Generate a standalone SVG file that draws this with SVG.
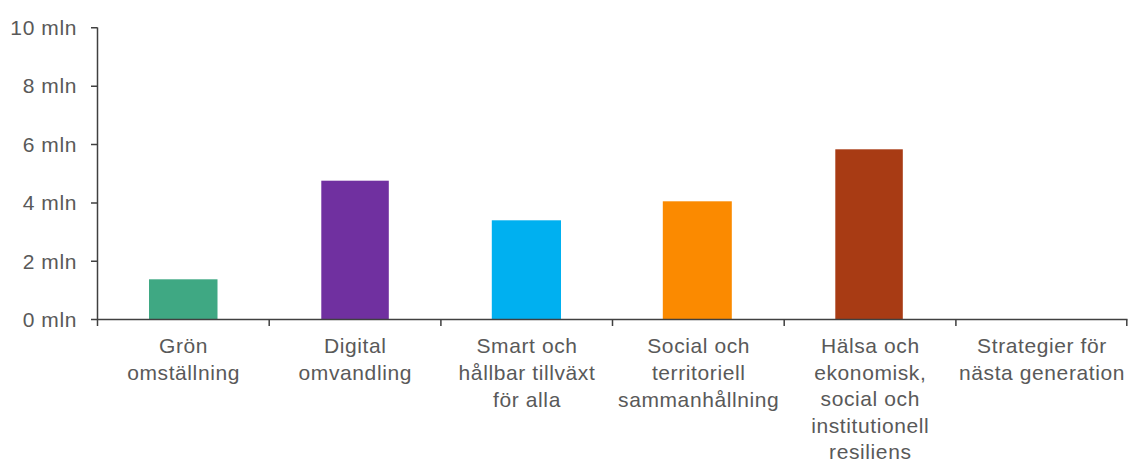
<svg xmlns="http://www.w3.org/2000/svg" width="1128" height="461" viewBox="0 0 1128 461">
  <style>
    .lbl { font-family: "Liberation Sans", Arial, sans-serif; font-size: 21px; fill: #595959; letter-spacing: 0.6px; }
    .ylbl { text-anchor: end; }
    .xlbl { text-anchor: middle; }
    .axis { stroke: #404040; stroke-width: 1.5; fill: none; }
  </style>
  <rect width="1128" height="461" fill="#ffffff"/>

  <g id="bars">
    <rect id="bar-gron" x="149" y="279.3" width="68.5" height="40.2" fill="#3FA883"/>
    <rect id="bar-digital" x="321.3" y="180.7" width="67.5" height="138.8" fill="#7030A0"/>
    <rect id="bar-smart" x="491.8" y="220.3" width="69.2" height="99.2" fill="#00B0F0"/>
    <rect id="bar-social" x="662.8" y="201.3" width="69" height="118.2" fill="#FB8A00"/>
    <rect id="bar-halsa" x="835.3" y="149.3" width="67.5" height="170.2" fill="#A83B14"/>
  </g>

  <g id="axes">
    <path class="axis" d="M97.5 27.5 V319.5 H1127.5"/>
    <path class="axis" d="M91 27.8 H97.5 M91 86.2 H97.5 M91 144.6 H97.5 M91 203 H97.5 M91 261.3 H97.5 M91 319.5 H97.5"/>
    <path class="axis" d="M97.5 319.5 V326 M269.2 319.5 V326 M440.9 319.5 V326 M612.5 319.5 V326 M784.2 319.5 V326 M955.9 319.5 V326 M1126.8 319.5 V326"/>
  </g>

  <g id="y-labels">
    <text class="lbl ylbl" x="77" y="35">10 mln</text>
    <text class="lbl ylbl" x="77" y="93.4">8 mln</text>
    <text class="lbl ylbl" x="77" y="151.8">6 mln</text>
    <text class="lbl ylbl" x="77" y="210.2">4 mln</text>
    <text class="lbl ylbl" x="77" y="268.5">2 mln</text>
    <text class="lbl ylbl" x="77" y="326.7">0 mln</text>
  </g>

  <g id="x-labels">
    <text id="lbl-gron" class="lbl xlbl" x="183.6" y="353.3">Grön<tspan x="183.6" dy="27">omställning</tspan></text>
    <text id="lbl-digital" class="lbl xlbl" x="355.3" y="353.3">Digital<tspan x="355.3" dy="27">omvandling</tspan></text>
    <text id="lbl-smart" class="lbl xlbl" x="527" y="353.3">Smart och<tspan x="527" dy="27">hållbar tillväxt</tspan><tspan x="527" dy="26.8">för alla</tspan></text>
    <text id="lbl-social" class="lbl xlbl" x="698.7" y="353.3">Social och<tspan x="698.7" dy="27">territoriell</tspan><tspan x="698.7" dy="26.8">sammanhållning</tspan></text>
    <text id="lbl-halsa" class="lbl xlbl" x="870.3" y="353">Hälsa och<tspan x="870.3" dy="26.5">ekonomisk,</tspan><tspan x="870.3" dy="26.5">social och</tspan><tspan x="870.3" dy="26.5">institutionell</tspan><tspan x="870.3" dy="26.5">resiliens</tspan></text>
    <text id="lbl-strategier" class="lbl xlbl" x="1042" y="353.3">Strategier för<tspan x="1042" dy="27">nästa generation</tspan></text>
  </g>
</svg>
